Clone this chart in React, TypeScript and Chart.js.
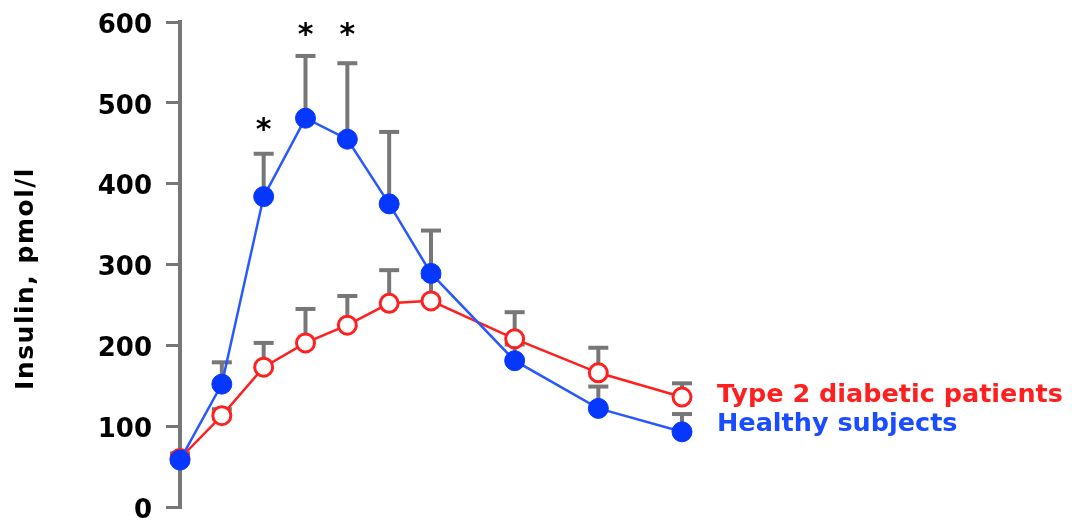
import React, { useEffect, useRef } from 'react';
import { Chart, registerables } from 'chart.js';

Chart.register(...registerables);

// ---- data ----
const times = [0, 10, 20, 30, 40, 50, 60, 80, 100, 120];
const healthyMean = [58, 152, 384, 481, 455, 375, 289, 181, 122, 93];
const healthyErr = [8, 27, 53, 77, 94, 89, 53, 20, 27, 22];
const diabeticMean = [60, 113, 173, 203, 225, 252, 255, 208, 166, 136];
const diabeticErr = [6, 8, 30, 42, 36, 41, 30, 33, 31, 17];
const starTimes = [20, 30, 40];
const starValues = [471, 589, 589];
const yTickValues = [0, 100, 200, 300, 400, 500, 600];
const healthyLabel = 'Healthy subjects';
const diabeticLabel = 'Type 2 diabetic patients';
const yTitle = 'Insulin, pmol/l';

const FONT = '"DejaVu Sans", Verdana, sans-serif';
const BLUE = '#0537ff';
const BLUE_LINE = '#2858ff';
const RED = '#ff1f1f';
const GRAY = '#777777';

const decorPlugin = {
  id: 'decor',
  beforeDatasetsDraw(chart: any) {
    const { ctx, scales } = chart;
    const xs = scales.x;
    const ys = scales.y;
    ctx.save();
    ctx.strokeStyle = GRAY;
    ctx.lineWidth = 4;
    const drawErr = (means: number[], errs: number[]) => {
      means.forEach((m, i) => {
        const x = xs.getPixelForValue(times[i]);
        const y0 = ys.getPixelForValue(m);
        const y1 = ys.getPixelForValue(m + errs[i]);
        ctx.beginPath();
        ctx.moveTo(x, y0);
        ctx.lineTo(x, y1);
        ctx.stroke();
        ctx.beginPath();
        ctx.moveTo(x - 10, y1);
        ctx.lineTo(x + 10, y1);
        ctx.stroke();
      });
    };
    drawErr(diabeticMean, diabeticErr);
    drawErr(healthyMean, healthyErr);
    ctx.restore();
  },
  afterDraw(chart: any) {
    const { ctx, scales, chartArea } = chart;
    const xs = scales.x;
    const ys = scales.y;
    ctx.save();
    // stars
    ctx.fillStyle = '#000';
    ctx.font = `bold 30px ${FONT}`;
    ctx.textAlign = 'center';
    ctx.textBaseline = 'alphabetic';
    starTimes.forEach((t, i) => {
      ctx.fillText('*', xs.getPixelForValue(t), ys.getPixelForValue(starValues[i]) + 13);
    });
    // series labels
    ctx.font = `bold 25.5px ${FONT}`;
    ctx.textAlign = 'left';
    ctx.textBaseline = 'middle';
    const lx = chartArea.right + 35;
    ctx.fillStyle = RED;
    ctx.fillText(diabeticLabel, lx, ys.getPixelForValue(diabeticMean[diabeticMean.length - 1]) - 2);
    ctx.fillStyle = '#1a4dff';
    ctx.fillText(healthyLabel, lx, ys.getPixelForValue(healthyMean[healthyMean.length - 1]) - 7);
    // y title
    ctx.fillStyle = '#000';
    ctx.font = `bold 25px ${FONT}`;
    (ctx as any).letterSpacing = '1.5px';
    ctx.translate(26, (chartArea.top + chartArea.bottom) / 2 + 14);
    ctx.rotate(-Math.PI / 2);
    ctx.textAlign = 'center';
    ctx.textBaseline = 'middle';
    ctx.fillText(yTitle, 0, 0);
    ctx.restore();
  },
};

export default function App() {
  const ref = useRef<HTMLCanvasElement | null>(null);
  useEffect(() => {
    if (!ref.current) return;
    const chart = new Chart(ref.current, {
      type: 'line',
      data: {
        datasets: [
          {
            label: healthyLabel,
            data: times.map((t, i) => ({ x: t, y: healthyMean[i] })),
            borderColor: BLUE_LINE,
            borderWidth: 2.5,
            pointBackgroundColor: BLUE,
            pointBorderColor: BLUE,
            pointBorderWidth: 1,
            pointRadius: 10,
            tension: 0,
            clip: false as any,
          },
          {
            label: diabeticLabel,
            data: times.map((t, i) => ({ x: t, y: diabeticMean[i] })),
            borderColor: RED,
            borderWidth: 2.5,
            pointBackgroundColor: '#ffffff',
            pointBorderColor: RED,
            pointBorderWidth: 3,
            pointRadius: 9,
            tension: 0,
            clip: false as any,
          },
        ],
      },
      options: {
        animation: false,
        responsive: true,
        maintainAspectRatio: false,
        layout: { padding: { left: 0, right: 390, top: 22, bottom: 14 } },
        plugins: { legend: { display: false }, tooltip: { enabled: false } },
        scales: {
          x: { type: 'linear', min: 0, max: 120, display: false },
          y: {
            type: 'linear',
            min: 0,
            max: 600,
            afterFit: (s: any) => {
              s.width = 180;
              s.paddingTop = 0;
              s.paddingBottom = 0;
            },
            afterBuildTicks: (s: any) => {
              s.ticks = yTickValues.map((v) => ({ value: v }));
            },
            ticks: {
              padding: 14,
              labelOffset: 4,
              color: '#000',
              font: { family: FONT, size: 26, weight: 'bold', lineHeight: 1 },
            },
            grid: {
              drawOnChartArea: false,
              drawTicks: true,
              tickLength: 14,
              color: GRAY,
              lineWidth: 3,
            },
            border: { display: true, color: GRAY, width: 4 },
          },
        },
      },
      plugins: [decorPlugin],
    } as any);
    return () => chart.destroy();
  }, []);
  return (
    <div style={{ position: 'fixed', left: 0, top: 0, width: 1072, height: 521, background: '#fff' }}>
      <canvas ref={ref} />
    </div>
  );
}
